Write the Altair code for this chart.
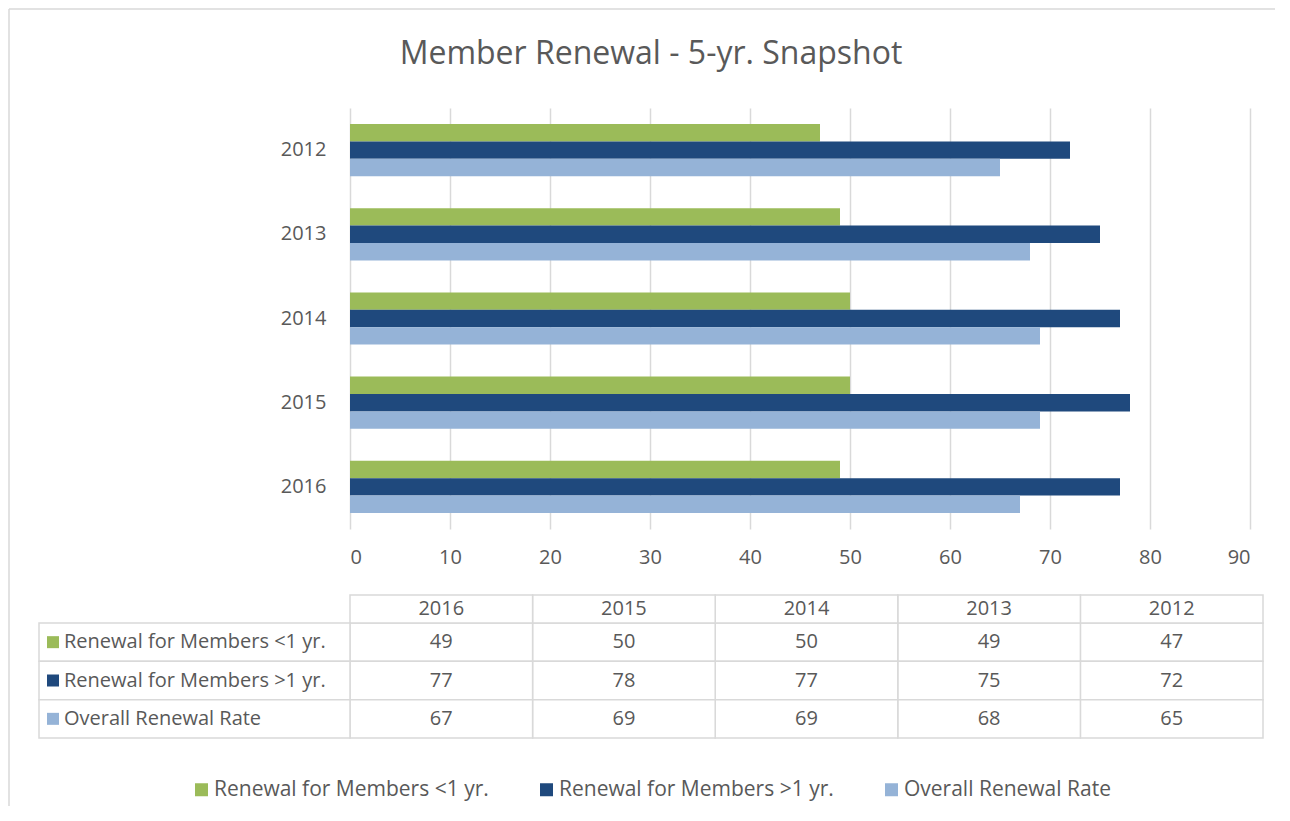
import altair as alt
import pandas as pd

# ---- data ----
years = ["2012", "2013", "2014", "2015", "2016"]
series_names = [
    "Renewal for Members <1 yr.",
    "Renewal for Members >1 yr.",
    "Overall Renewal Rate",
]
renew_lt1 = [47, 49, 50, 50, 49]
renew_gt1 = [72, 75, 77, 78, 77]
overall_rate = [65, 68, 69, 69, 67]
x_ticks = [0, 10, 20, 30, 40, 50, 60, 70, 80, 90]
colors = ["#9BBB59", "#1F497D", "#95B3D7"]
title_text = "Member Renewal - 5-yr. Snapshot"

rows = []
for s, vals in zip(series_names, [renew_lt1, renew_gt1, overall_rate]):
    for y, v in zip(years, vals):
        rows.append({"year": y, "series": s, "value": v})
df = pd.DataFrame(rows)
sdf = pd.DataFrame({"series": series_names})
ydf = pd.DataFrame({"year": years})
table_years = years[::-1]

FONT = "Open Sans"
TXT = "#595959"
GRID = "#D9D9D9"
FS = 20

color_scale = alt.Scale(domain=series_names, range=colors)

# ---- bar chart ----
bars = alt.Chart(df).mark_bar().encode(
    x=alt.X(
        "value:Q",
        scale=alt.Scale(domain=[0, 90], nice=False),
        axis=alt.Axis(
            values=x_ticks, title=None, grid=True, gridColor=GRID, gridWidth=1.5,
            domain=False, ticks=False, labelFontSize=FS, labelColor=TXT,
            labelFont=FONT, labelPadding=18,
        ),
    ),
    y=alt.Y(
        "year:N", sort=years,
        scale=alt.Scale(paddingInner=0.38, paddingOuter=0.19),
        axis=alt.Axis(
            title=None, domain=False, ticks=False, labelFontSize=FS,
            labelColor=TXT, labelFont=FONT, labelPadding=24,
        ),
    ),
    yOffset=alt.YOffset(
        "series:N", sort=series_names,
        scale=alt.Scale(paddingInner=0, paddingOuter=0),
    ),
    color=alt.Color(
        "series:N", scale=color_scale, sort=series_names,
        legend=alt.Legend(
            orient="none", legendX=-159, legendY=671, direction="horizontal",
            title=None, symbolType="square", symbolSize=169, symbolStrokeWidth=0,
            symbolOpacity=1, labelFont=FONT, labelFontSize=21, labelColor=TXT,
            labelLimit=600, columnPadding=47, labelOffset=2, padding=0,
        ),
    ),
)

one = alt.Data(values=[{}])
top_edge = alt.Chart(one).mark_rule(color=GRID, strokeWidth=1.5).encode(
    x=alt.value(-341), x2=alt.value(925), y=alt.value(-99)
)
left_edge = alt.Chart(one).mark_rule(color=GRID, strokeWidth=1.5).encode(
    x=alt.value(-341), y=alt.value(-99), y2=alt.value(698)
)

top = alt.layer(bars, top_edge, left_edge).properties(
    width=900,
    height=421,
    title=alt.TitleParams(
        title_text, font=FONT, fontSize=32, fontWeight="normal", color=TXT,
        anchor="middle", frame="group", dx=-149, offset=-63,
    ),
)

# ---- data table ----
x_tbl = alt.X("year:N", sort=table_years,
              scale=alt.Scale(paddingInner=0, paddingOuter=0), axis=None)
y_tbl = alt.Y("series:N", sort=series_names,
              scale=alt.Scale(paddingInner=0, paddingOuter=0), axis=None)

cells = alt.Chart(df).mark_rect(fill="white", stroke=GRID, strokeWidth=1.5).encode(
    x=x_tbl, y=y_tbl
)
values = alt.Chart(df).mark_text(font=FONT, fontSize=FS, color=TXT).encode(
    x=x_tbl, y=y_tbl, text="value:Q"
)
label_cells = alt.Chart(sdf).mark_rect(fill="white", stroke=GRID, strokeWidth=1.5).encode(
    x=alt.value(-311), x2=alt.value(0), y=y_tbl
)
squares = alt.Chart(sdf).mark_point(shape="square", filled=True, size=144, opacity=1).encode(
    x=alt.value(-297), y=y_tbl,
    color=alt.Color("series:N", scale=color_scale, legend=None),
)
labels = alt.Chart(sdf).mark_text(align="left", font=FONT, fontSize=FS, color=TXT).encode(
    x=alt.value(-286), y=y_tbl, text="series:N"
)
header_cells = alt.Chart(ydf).mark_rect(fill="white", stroke=GRID, strokeWidth=1.5).encode(
    x=x_tbl, y=alt.value(-28), y2=alt.value(0)
)
header_text = alt.Chart(ydf).mark_text(font=FONT, fontSize=FS, color=TXT).encode(
    x=x_tbl, y=alt.value(-14), text="year:N"
)

body = alt.layer(
    cells, header_cells, label_cells, values, header_text, squares, labels
).properties(width=913, height=115)

chart = (
    alt.vconcat(top, body, spacing=94, bounds="flush")
    .resolve_legend(color="independent")
    .properties(padding=0, background="white")
    .configure_view(stroke=None)
)

chart.save("out.html", embed_options={"renderer": "svg", "actions": False})
